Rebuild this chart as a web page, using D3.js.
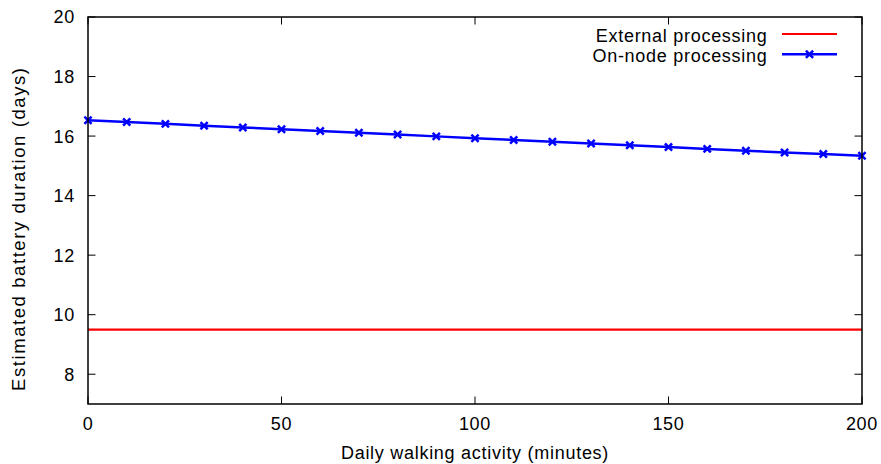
<!DOCTYPE html>
<html><head><meta charset="utf-8">
<script src="https://cdn.jsdelivr.net/npm/d3@7"></script>
<style>body{margin:0;background:#fff}text{font-family:"Liberation Sans",Arial,sans-serif;fill:#000;letter-spacing:0.72px}</style>
</head><body><svg id="c" width="881" height="464"></svg>
<script>
const minutes = [0,10,20,30,40,50,60,70,80,90,100,110,120,130,140,150,160,170,180,190,200];
const onNode = [16.53,16.47,16.41,16.35,16.29,16.23,16.17,16.11,16.05,15.99,15.93,15.87,15.81,15.75,15.69,15.63,15.57,15.51,15.45,15.40,15.34];
const external = [9.5,9.5];
const externalX = [0,200];
const xTicks = [0,50,100,150,200];
const yTicks = [8,10,12,14,16,18,20];
const seriesNames = ["External processing","On-node processing"];

const svg = d3.select("#c");
const L=88, R=862, T=17, B=404;
const x = d3.scaleLinear().domain([0,200]).range([L,R]);
const y = d3.scaleLinear().domain([7,20]).range([B,T]);
const fs = 18;

// ticks (inward, mirrored)
const tk = 7.5;
const g = svg.append("g");
xTicks.forEach(v=>{
  g.append("line").attr("x1",x(v)).attr("x2",x(v)).attr("y1",B).attr("y2",B-tk).attr("stroke","#000").attr("stroke-width",1);
  g.append("line").attr("x1",x(v)).attr("x2",x(v)).attr("y1",T).attr("y2",T+tk).attr("stroke","#000").attr("stroke-width",1);
  g.append("text").attr("x",x(v)).attr("y",430).attr("text-anchor","middle").attr("font-size",fs).text(v);
});
yTicks.forEach(v=>{
  g.append("line").attr("x1",L).attr("x2",L+tk).attr("y1",y(v)).attr("y2",y(v)).attr("stroke","#000").attr("stroke-width",1);
  g.append("line").attr("x1",R).attr("x2",R-tk).attr("y1",y(v)).attr("y2",y(v)).attr("stroke","#000").attr("stroke-width",1);
  g.append("text").attr("x",75).attr("y",y(v)).attr("dy","0.36em").attr("text-anchor","end").attr("font-size",fs).text(v);
});

// series
const line = d3.line().x(d=>x(d[0])).y(d=>y(d[1]));
svg.append("path").datum(externalX.map((v,i)=>[v,external[i]])).attr("d",line)
  .attr("fill","none").attr("stroke","#ff0000").attr("stroke-width",2.2);
const pts = minutes.map((m,i)=>[m,onNode[i]]);
svg.append("path").datum(pts).attr("d",line)
  .attr("fill","none").attr("stroke","#0000ff").attr("stroke-width",2.5);
const cross = (sel,cx,cy)=>{
  const s=3.6;
  sel.append("path").attr("d",`M${cx-s},${cy-s}L${cx+s},${cy+s}M${cx-s},${cy+s}L${cx+s},${cy-s}`)
    .attr("stroke","#0000ff").attr("stroke-width",2.5).attr("fill","none");
};
const mg = svg.append("g");
pts.forEach(p=>cross(mg,x(p[0]),y(p[1])));

// frame
svg.append("rect").attr("x",L).attr("y",T).attr("width",R-L).attr("height",B-T)
  .attr("fill","none").attr("stroke","#000").attr("stroke-width",1.5);

// legend
const lg = svg.append("g");
const rows=[34,54.3];
lg.append("text").attr("x",767.5).attr("y",41.7).attr("text-anchor","end").attr("font-size",fs).text(seriesNames[0]);
lg.append("text").attr("x",767.5).attr("y",62.2).attr("text-anchor","end").attr("font-size",fs).text(seriesNames[1]);
lg.append("line").attr("x1",782).attr("x2",837).attr("y1",rows[0]).attr("y2",rows[0]).attr("stroke","#ff0000").attr("stroke-width",2.2);
lg.append("line").attr("x1",782).attr("x2",837).attr("y1",rows[1]).attr("y2",rows[1]).attr("stroke","#0000ff").attr("stroke-width",2.5);
cross(lg,809.5,rows[1]);

// axis titles
svg.append("text").attr("x",475).attr("y",459.3).attr("text-anchor","middle").attr("font-size",fs).text("Daily walking activity (minutes)");
svg.append("text").attr("transform",`translate(25,229.5) rotate(-90)`).attr("text-anchor","middle").attr("font-size",18.5)
  .attr("textLength",323).attr("lengthAdjust","spacing").style("letter-spacing","0px").text("Estimated battery duration (days)");
</script></body></html>
